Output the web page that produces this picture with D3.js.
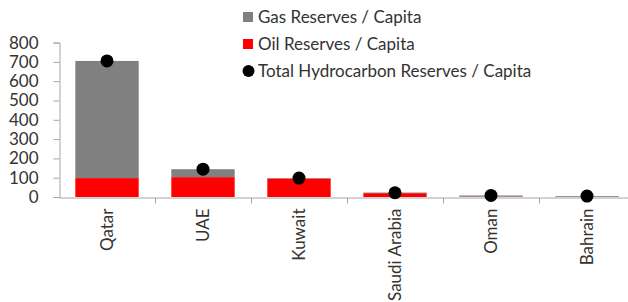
<!DOCTYPE html>
<html><head><meta charset="utf-8">
<script src="https://cdn.jsdelivr.net/npm/d3@7"></script>
<style>body{margin:0;background:#fff}svg{display:block}</style>
</head><body>
<script>
const countries = ["Qatar","UAE","Kuwait","Saudi Arabia","Oman","Bahrain"];
const oil = [98, 103, 96, 20, 2, 1];
const gas = [607, 41, 2, 3, 6, 4];
const total = [705, 144, 98, 22, 8, 5];
const yTicks = [0,100,200,300,400,500,600,700,800];
const seriesNames = ["Gas Reserves / Capita","Oil Reserves / Capita","Total Hydrocarbon Reserves / Capita"];

const W = 628, H = 302;
const svg = d3.select("body").append("svg").attr("width", W).attr("height", H);
const font = "Lato, 'Open Sans', sans-serif";
const textCol = "#333";
const axisCol = "#a6a6a6";

const x = d3.scaleBand().domain(countries).range([59, 635]).paddingInner(0.34).paddingOuter(0.17);
const y = d3.scaleLinear().domain([0, 800]).range([197, 42.6]);

// bars
const g = svg.append("g");
countries.forEach((c, i) => {
  g.append("rect").attr("x", x(c)).attr("width", x.bandwidth())
    .attr("y", y(oil[i])).attr("height", y(0) - y(oil[i])).attr("fill", "#ff0000");
  g.append("rect").attr("x", x(c)).attr("width", x.bandwidth())
    .attr("y", y(oil[i] + gas[i])).attr("height", y(oil[i]) - y(oil[i] + gas[i])).attr("fill", "#808080");
});

// y axis
const ya = svg.append("g").attr("transform", "translate(59.5,0)")
  .call(d3.axisLeft(y).tickValues(yTicks).tickSize(6).tickPadding(15));
ya.select(".domain").attr("stroke", axisCol);
ya.selectAll(".tick line").attr("stroke", axisCol);
ya.selectAll("text").attr("font-family", font).attr("font-size", 17).attr("fill", textCol);

// x axis
const xa = svg.append("g").attr("transform", "translate(0,197.5)")
  .call(d3.axisBottom(x).tickSize(0).tickSizeOuter(0));
xa.select(".domain").attr("stroke", axisCol);
xa.selectAll(".tick text").attr("font-family", font).attr("font-size", 17).attr("fill", textCol)
  .attr("text-anchor", "end").attr("transform", "rotate(-90)").attr("x", -11).attr("y", 0).attr("dy", "0.35em");
// category separator ticks
const bounds = countries.slice(1).map(c => x(c) - x.step() * x.paddingInner() / 2);
svg.append("g").selectAll("line").data(bounds).join("line")
  .attr("x1", d => Math.round(d) + 0.5).attr("x2", d => Math.round(d) + 0.5)
  .attr("y1", 197.5).attr("y2", 203.5).attr("stroke", axisCol);

// total dots
svg.append("g").selectAll("circle").data(countries).join("circle")
  .attr("cx", c => x(c) + x.bandwidth() / 2)
  .attr("cy", (c, i) => y(total[i])).attr("r", 6.5).attr("fill", "#000");

// legend
const lg = svg.append("g").attr("font-family", font).attr("font-size", 17).attr("fill", textCol);
const ly = [17, 44, 71];
lg.append("rect").attr("x", 243).attr("y", ly[0] - 5).attr("width", 10).attr("height", 10).attr("fill", "#808080");
lg.append("rect").attr("x", 243).attr("y", ly[1] - 5).attr("width", 10).attr("height", 10).attr("fill", "#ff0000");
lg.append("circle").attr("cx", 248.5).attr("cy", ly[2]).attr("r", 6).attr("fill", "#000");
seriesNames.forEach((n, i) => {
  lg.append("text").attr("x", 258).attr("y", ly[i]).attr("dy", "0.35em").text(n);
});
</script>
</body></html>
